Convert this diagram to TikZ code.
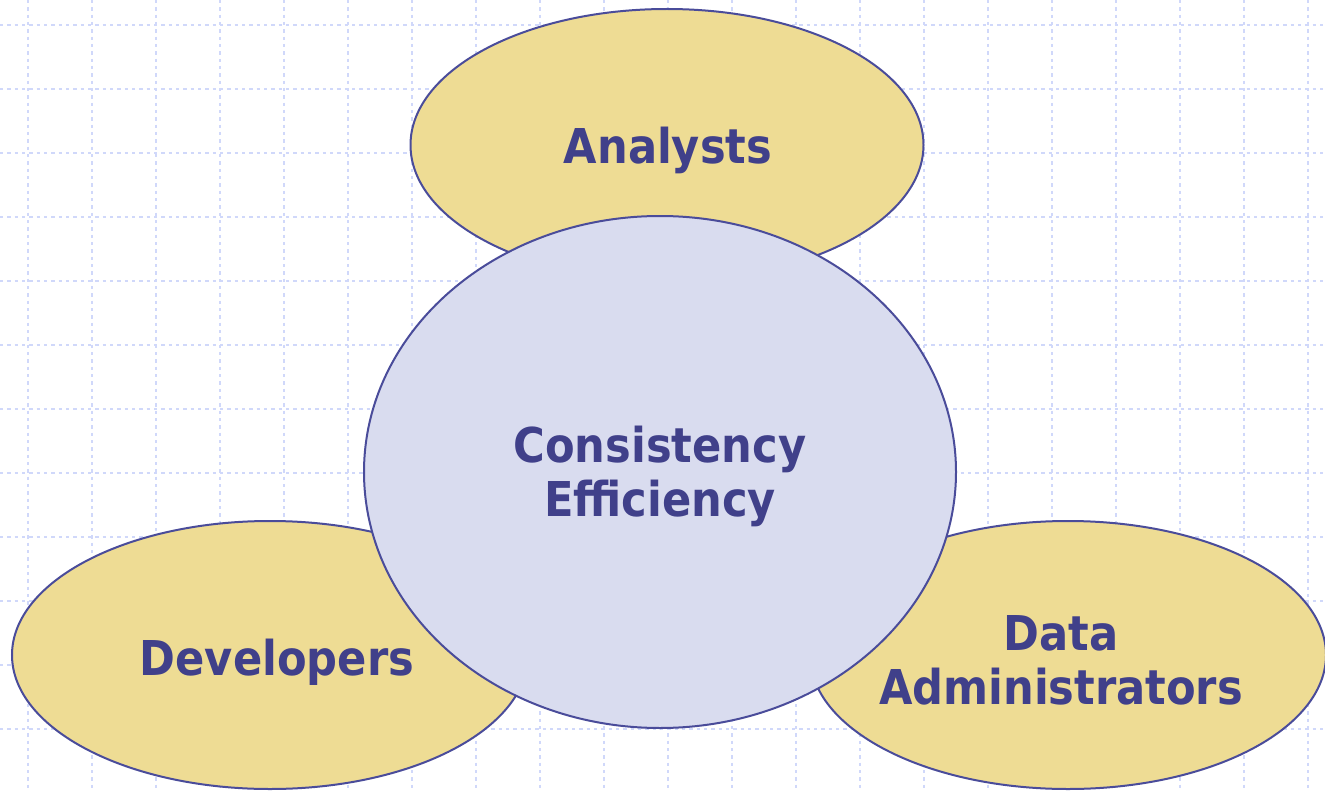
\documentclass[tikz,border=0pt]{standalone}
\usepackage{fontspec}
\setmainfont{DejaVu Sans Condensed}
\usetikzlibrary{shapes.geometric}
\definecolor{gridblue}{RGB}{208,216,250}
\definecolor{sand}{RGB}{238,220,148}
\definecolor{lilac}{RGB}{217,220,239}
\definecolor{edgeblue}{RGB}{74,76,154}
\definecolor{inkblue}{RGB}{64,64,138}
\tikzset{
  blob/.style={ellipse, draw=edgeblue, line width=1.5pt, inner sep=0pt},
  role/.style={blob, fill=sand},
  core/.style={blob, fill=lilac},
  word/.style={text=inkblue, font=\bfseries\fontsize{36}{40.5}\selectfont, align=center, inner sep=0pt},
  gridline/.style={gridblue, line width=0.8pt, dash pattern=on 2.5pt off 3pt}
}
\begin{document}
\begin{tikzpicture}[x=0.75pt,y=-0.75pt]
\useasboundingbox (0,0) rectangle (1325,792);
% background grid
\foreach \gx in {28,92,...,1308}
  \draw[gridline] (\gx,0) -- (\gx,792);
\foreach \gy in {25,89,...,729}
  \draw[gridline] (0,\gy) -- (1325,\gy);

\node[role, minimum width=384.75pt, minimum height=204pt] (analysts) at (667,145) {};
\node[role, minimum width=387pt, minimum height=201pt] (devs) at (270,655) {};
\node[role, minimum width=387pt, minimum height=201pt] (admins) at (1068,655) {};
\node[core, minimum width=444pt, minimum height=384pt] (core) at (660,472) {};

\node[word] (analystsText) at (668,150) {Analysts};
\node[word] (devsText) at (277,662) {Developers};
\node[word] (adminsText) at (1061,660) {Data\\Administrators};
\node[word] (coreText) at (660,476) {Consistency\\Efficiency};
\end{tikzpicture}
\end{document}
